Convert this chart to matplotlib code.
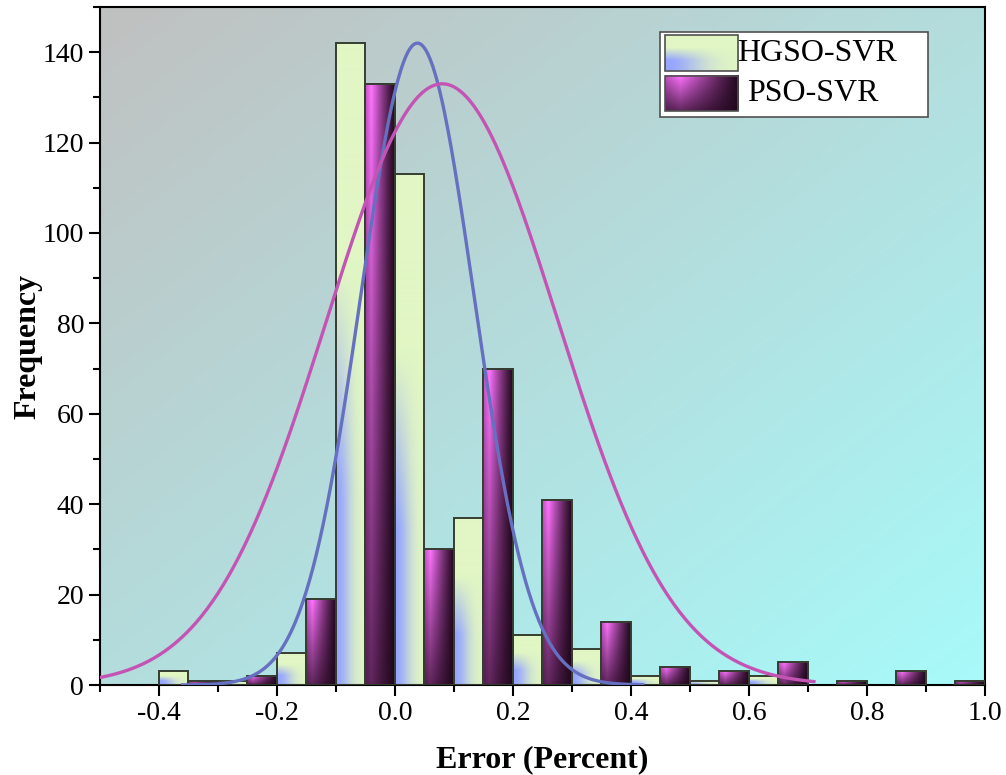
import numpy as np
import matplotlib
matplotlib.use('Agg')
import matplotlib.pyplot as plt
from matplotlib.patches import Rectangle
from matplotlib.ticker import MultipleLocator

plt.rcParams['font.family'] = ['Liberation Serif', 'DejaVu Serif']

# histogram data (bin width 0.1, each series takes half a bin)
hgso_left = [-0.4, -0.3, -0.2, -0.1, 0.0, 0.1, 0.2, 0.3, 0.4, 0.5, 0.6]
hgso_count = [3, 1, 7, 142, 113, 37, 11, 8, 2, 1, 2]
pso_left = [-0.35, -0.25, -0.15, -0.05, 0.05, 0.15, 0.25, 0.35, 0.45, 0.55, 0.65, 0.75, 0.85, 0.95]
pso_count = [1, 2, 19, 133, 30, 70, 41, 14, 4, 3, 5, 1, 3, 1]
bar_w = 0.05

# fitted normal curves: mean, sigma, peak height, drawn range
hgso_fit = dict(mu=0.038, sigma=0.096, peak=142, lo=-0.36, hi=0.42)
pso_fit = dict(mu=0.08, sigma=0.196, peak=133, lo=-0.5, hi=0.71)

fig = plt.figure(figsize=(10.06, 7.75), dpi=100)
ax = fig.add_axes([0.0994, 0.1161, 0.8797, 0.8749])

# background gradient grey -> cyan
n = 200
gx, gy = np.meshgrid(np.linspace(0, 1, n), np.linspace(1, 0, n))
t = np.clip((gx + (1 - gy)) / 2, 0, 1)[..., None]
grey = np.array([192, 192, 192]) / 255
cyan = np.array([168, 250, 250]) / 255
bg = grey + t * (cyan - grey)
ax.imshow(bg, extent=[0, 1, 0, 1], transform=ax.transAxes, aspect='auto', zorder=0)


def grad_pso(h=60, w=30):
    u, v = np.meshgrid(np.linspace(0, 1, w), np.linspace(1, 0, h))
    b = np.clip(1 - np.abs(u - 0.2) / 0.85, 0, 1) ** 1.2 * (0.3 + 0.7 * v)
    dark = np.array([30, 6, 26]) / 255
    mag = np.array([255, 115, 255]) / 255
    return dark + b[..., None] * (mag - dark)


def grad_hgso(h=60, w=30):
    u, v = np.meshgrid(np.linspace(0, 1, w), np.linspace(1, 0, h))
    b = np.exp(-(u / 0.5) ** 2) * np.clip((0.65 - v) / 0.35, 0, 1)
    green = np.array([225, 246, 196]) / 255
    blue = np.array([150, 165, 255]) / 255
    return green + b[..., None] * (blue - green)


edge = '#353d30'
img_h = grad_hgso()
img_p = grad_pso()
bars_h = ax.bar(hgso_left, hgso_count, width=bar_w, align='edge',
                facecolor='none', edgecolor=edge, linewidth=1.4, zorder=3)
bars_p = ax.bar(pso_left, pso_count, width=bar_w, align='edge',
                facecolor='none', edgecolor=edge, linewidth=1.4, zorder=3)
for bars, img in [(bars_h, img_h), (bars_p, img_p)]:
    for r in bars:
        x0, y0 = r.get_x(), r.get_y()
        ax.imshow(img, extent=[x0, x0 + r.get_width(), y0, y0 + r.get_height()],
                  aspect='auto', zorder=2, interpolation='bilinear')

for fit, col in [(hgso_fit, '#6670c0'), (pso_fit, '#c454b4')]:
    xs = np.linspace(fit['lo'], fit['hi'], 400)
    ys = fit['peak'] * np.exp(-(xs - fit['mu']) ** 2 / (2 * fit['sigma'] ** 2))
    ax.plot(xs, ys, color=col, lw=2.4, zorder=4)

ax.set_xlim(-0.5, 1.0)
ax.set_ylim(0, 150)
ax.xaxis.set_minor_locator(MultipleLocator(0.1))
ax.yaxis.set_major_locator(MultipleLocator(20))
ax.yaxis.set_minor_locator(MultipleLocator(10))
ax.set_xticks([-0.4, -0.2, 0.0, 0.2, 0.4, 0.6, 0.8, 1.0])
ax.set_xticklabels(['-0.4', '-0.2', '0.0', '0.2', '0.4', '0.6', '0.8', '1.0'])
ax.tick_params(which='major', length=8, width=1.5, labelsize=20, direction='out')
ax.tick_params(which='minor', length=5, width=1.5, direction='out')
ax.tick_params(top=False, right=False, which='both')
for s in ax.spines.values():
    s.set_linewidth(1.5)

ax.set_xlabel('Error (Percent)', fontsize=23, fontweight='bold', labelpad=14)
ax.set_ylabel('Frequency', fontsize=23, fontweight='bold', labelpad=0)

# legend drawn by hand with gradient swatches
ax.add_patch(Rectangle((0.633, 0.838), 0.303, 0.125, transform=ax.transAxes,
                       facecolor='white', edgecolor='#505050', lw=1.2, zorder=5))
ax.imshow(img_h, extent=[0.638, 0.721, 0.906, 0.958], transform=ax.transAxes,
          aspect='auto', zorder=6)
ax.add_patch(Rectangle((0.638, 0.906), 0.083, 0.052, transform=ax.transAxes,
                       facecolor='none', edgecolor='#505050', lw=1.2, zorder=7))
ax.imshow(img_p, extent=[0.638, 0.721, 0.846, 0.898], transform=ax.transAxes,
          aspect='auto', zorder=6)
ax.add_patch(Rectangle((0.638, 0.846), 0.083, 0.052, transform=ax.transAxes,
                       facecolor='none', edgecolor='#505050', lw=1.2, zorder=7))
ax.text(0.720, 0.932, 'HGSO-SVR', transform=ax.transAxes, fontsize=23,
        va='center', ha='left', zorder=8)
ax.text(0.731, 0.872, 'PSO-SVR', transform=ax.transAxes, fontsize=23,
        va='center', ha='left', zorder=8)

fig.savefig('out.png', dpi=100)
